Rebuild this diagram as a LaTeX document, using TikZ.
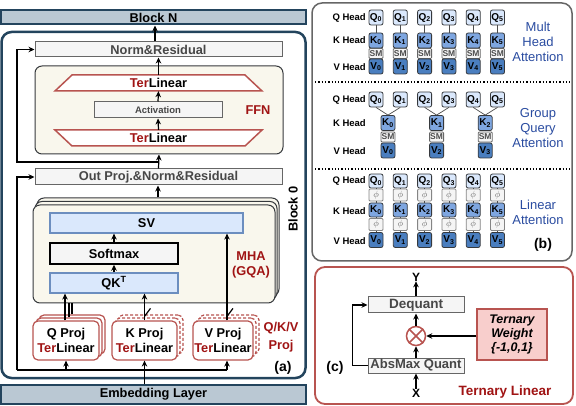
\documentclass[tikz,border=0pt]{standalone}
\usepackage{fontspec}
\setmainfont{Liberation Sans}
\usetikzlibrary{arrows.meta}
\definecolor{blockfill}{HTML}{BAC8D3}
\definecolor{blockline}{HTML}{23445D}
\definecolor{normfill}{HTML}{F5F5F5}
\definecolor{normline}{HTML}{666666}
\definecolor{beige}{HTML}{F9F7ED}
\definecolor{beigeline}{HTML}{36393D}
\definecolor{svfill}{HTML}{DAE8FC}
\definecolor{svline}{HTML}{6C8EBF}
\definecolor{terline}{HTML}{B85450}
\definecolor{terred}{HTML}{A01414}
\definecolor{pinkfill}{HTML}{F8CECC}
\definecolor{labelblue}{HTML}{2A4CA0}
\definecolor{qfill}{HTML}{DAE8FC}
\definecolor{kfill}{HTML}{7EA6E0}
\definecolor{vfill}{HTML}{4A7EBF}
\definecolor{headline}{HTML}{36393D}
\newcommand{\pxfont}[2]{\fontsize{#1}{#2}\selectfont}

\begin{document}
\begin{tikzpicture}[x=1pt, y=-1pt,
  every node/.style={inner sep=0pt, font=\pxfont{12.8}{15}\bfseries},
  bar/.style={draw=blockline, fill=blockfill, line width=2pt},
  normbox/.style={draw=normline, fill=normfill, line width=1pt, text=black!72},
  container/.style={draw=beigeline, fill=beige, line width=1pt, rounded corners=7pt},
  bluebox/.style={draw=svline, fill=svfill, line width=1.2pt},
  projbox/.style={draw=terline, fill=white, line width=1.2pt, rounded corners=5pt, align=center},
  dashproj/.style={projbox, dash pattern=on 3pt off 2pt},
  head/.style={draw=headline, line width=0.8pt, rounded corners=2pt, minimum width=14pt, minimum height=15pt, font=\pxfont{10}{12}\bfseries},
  qhead/.style={head, fill=qfill},
  khead/.style={head, fill=kfill},
  vhead/.style={head, fill=vfill},
  smbox/.style={head, fill=normfill, draw=normline, rounded corners=1pt, minimum height=10pt, text=black!70, font=\pxfont{8.5}{9}\bfseries},
  phibox/.style={head, fill=normfill, draw=normline!80, rounded corners=1pt, minimum height=12pt, text=black!60, font=\pxfont{9}{10}},
  headlbl/.style={anchor=east, font=\pxfont{9.5}{11}\bfseries},
  bluelbl/.style={text=labelblue, align=center, font=\pxfont{13}{15}},
  link/.style={line width=1.2pt},
  thin/.style={draw=black!70, line width=0.7pt},
  arr/.style={-{Stealth[length=6pt, width=5.5pt]}, line width=1.2pt}]
  \useasboundingbox (0,0) rectangle (576,406);

  % (a) block stack
  \node[bar, minimum width=305, minimum height=14] (blockN) at (153.5,17.5) {Block N};
  \node[bar, minimum width=305, minimum height=19] (emb) at (153.5,394.5) {Embedding Layer};
  \draw[draw=blockline, line width=2.5pt, rounded corners=10pt] (1.5,32) rectangle (305.5,378);
  \node[rotate=90] (blk0) at (293,209) {Block 0};

  \node[normbox, minimum width=247, minimum height=15] (normres) at (158.5,49.5) {Norm\&Residual};
  \node[container, minimum width=248, minimum height=88] (ffn) at (159,110) {};
  \fill[white] (55,91) -- (72,75) -- (245,75) -- (262,91) -- cycle;
  \draw[terline, line width=1.5pt] (55,91) -- (72,75) -- (245,75) -- (262,91) -- cycle;
  \fill[white] (55,130) -- (72,146) -- (245,146) -- (262,130) -- cycle;
  \draw[terline, line width=1.5pt] (55,130) -- (72,146) -- (245,146) -- (262,130) -- cycle;
  \node[minimum width=173, minimum height=16] (terTop) at (158.5,83) {\textcolor{terred}{Ter}Linear};
  \node[minimum width=173, minimum height=16] (terBot) at (158.5,138) {\textcolor{terred}{Ter}Linear};
  \node[normbox, minimum width=128, minimum height=16, font=\pxfont{9.5}{11}\bfseries] (act) at (158,110) {Activation};
  \node[text=terred] (ffnlbl) at (258,110) {FFN};

  \node[normbox, minimum width=247, minimum height=16] (outproj) at (158.5,177) {Out Proj.\&Norm\&Residual};

  % attention block, two copies behind
  \node[container, minimum width=242, minimum height=98] (mhaback) at (158,247) {};
  \node[container, minimum width=242, minimum height=98] (mhamid) at (156,250.5) {};
  \node[container, minimum width=242, minimum height=98] (mha) at (154,254) {};
  \node[bluebox, minimum width=193, minimum height=20] (sv) at (146.5,223) {SV};
  \node[normbox, draw=black, line width=1.5pt, text=black, minimum width=128, minimum height=21] (softmax) at (114,253.5) {Softmax};
  \node[bluebox, minimum width=128, minimum height=20] (qk) at (114,283) {QK\textsuperscript{T}};
  \node[text=terred, align=center] (mhalbl) at (251,264.5) {MHA\\(GQA)};

  % projections
  \foreach \d in {6,3}
    \node[projbox, minimum width=66, minimum height=39] (qproj\d) at (66+\d,340.5-\d) {};
  \node[projbox, minimum width=66, minimum height=39] (qproj) at (66,340.5) {Q Proj\\\textcolor{terred}{Ter}Linear};
  \foreach \d in {6,3}
    \node[dashproj, minimum width=65, minimum height=39] (kproj\d) at (144.5+\d,340.5-\d) {};
  \node[projbox, minimum width=65, minimum height=39] (kproj) at (144.5,340.5) {K Proj\\\textcolor{terred}{Ter}Linear};
  \foreach \d in {6,3}
    \node[dashproj, minimum width=60, minimum height=39] (vproj\d) at (223+\d,340.5-\d) {};
  \node[projbox, minimum width=60, minimum height=39] (vproj) at (223,340.5) {V Proj\\\textcolor{terred}{Ter}Linear};
  \node[text=terred, align=center, font=\pxfont{12.8}{18}\bfseries] (projlbl) at (281,337) {Q/K/V\\Proj};
  \node[font=\pxfont{14}{16}\bfseries] (lbla) at (283,368) {(a)};

  % data flow
  \draw[arr] ([xshift=-3.5pt]normres.north) -- ([xshift=-3.5pt]normres.north |- blockN.south);
  \draw[arr] (terTop.north) -- (normres.south);
  \draw[arr] (act.north) -- (terTop.south);
  \draw[arr] (terBot.north) -- (act.south);
  \draw[arr] (outproj.north) -- (ffn.south);
  \coordinate (res1) at (158.5,162);
  \coordinate (res1l) at (17,162);
  \draw[arr] (res1) -- (res1l) |- (normres.west);
  \draw[arr] (mhaback.north) -- (mhaback.north |- outproj.south);
  \draw[arr] (qk.north) -- (softmax.south);
  \draw[arr] (softmax.north) -- (softmax.north |- sv.south);
  \draw[arr] ([xshift=-1pt]qproj.north) -- ([xshift=-1pt]qproj.north |- qk.south);
  \draw[link] (qproj3.north) -- (qproj3.north |- mha.south);
  \draw[link] (qproj6.north) -- (qproj6.north |- mha.south);
  \draw[arr] (kproj.north) -- (kproj.north |- qk.south);
  \draw[link] ([yshift=4pt]kproj.north) -- ++(6,-8);
  \coordinate (res2l) at (17,370);
  \coordinate (res2r) at (227,370);
  \draw[arr] (res2r |- vproj.north) -- (res2r |- sv.south);
  \draw[link] ([yshift=4pt]res2r |- vproj.north) -- ++(6,-8);
  \draw[link] (res2r) -- (res2l);
  \draw[arr] (res2l) |- (outproj.west);
  \draw[arr] (kproj.south |- emb.north) -- (kproj.south);
  \draw[arr] (qproj.south |- res2l) -- (qproj.south);
  \draw[arr] (res2r) -- (res2r |- vproj.south);

  % (b) attention variants
  \draw[draw=black!60, line width=1.5pt, rounded corners=10pt] (312,3) rectangle (572,261);
  \draw[dotted, line width=1.3pt] (315,82) -- (570,82);
  \draw[dotted, line width=1.3pt] (315,169) -- (570,169);
  \foreach \i in {0,...,5} {
    \node[qhead] (mq\i) at ({376+24.3*\i},17.5) {Q\textsubscript{\i}};
    \node[khead] (mk\i) at ({376+24.3*\i},40.5) {K\textsubscript{\i}};
    \node[smbox] (ms\i) at ({376+24.3*\i},53.5) {SM};
    \node[vhead] (mv\i) at ({376+24.3*\i},66.5) {V\textsubscript{\i}};
    \draw[thin] (mq\i.south) -- (mk\i.north);
  }
  \node[headlbl] (mqh) at (366,17.5) {Q Head};
  \node[headlbl] (mkh) at (366,40.5) {K Head};
  \node[headlbl] (mvh) at (366,67.5) {V Head};
  \node[bluelbl] (mlbl) at (538,42) {Mult\\Head\\Attention};

  \foreach \i in {0,...,5}
    \node[qhead] (gq\i) at ({376+24.3*\i},99.5) {Q\textsubscript{\i}};
  \foreach \j/\v/\a/\b in {0/0/0/1, 1/2/2/3, 2/3/4/5} {
    \node[khead] (gk\j) at ({388+48.6*\j},123) {K\textsubscript{\j}};
    \node[smbox] (gs\j) at ({388+48.6*\j},137) {SM};
    \node[vhead] (gv\j) at ({388+48.6*\j},150.5) {V\textsubscript{\v}};
    \draw[thin] (gq\a.south) -- (gk\j.north);
    \draw[thin] (gq\b.south) -- (gk\j.north);
  }
  \node[headlbl] (gqh) at (366,99.5) {Q Head};
  \node[headlbl] (gkh) at (366,123) {K Head};
  \node[headlbl] (gvh) at (366,151.5) {V Head};
  \node[bluelbl] (glbl) at (538,128) {Group\\Query\\Attention};

  \foreach \i in {0,...,5} {
    \node[qhead, minimum height=14pt] (lq\i) at ({376+24.3*\i},181) {Q\textsubscript{\i}};
    \node[phibox] (lpa\i) at ({376+24.3*\i},195) {$\phi$};
    \node[khead, minimum height=14pt] (lk\i) at ({376+24.3*\i},210) {K\textsubscript{\i}};
    \node[phibox] (lpb\i) at ({376+24.3*\i},224.5) {$\phi$};
    \node[vhead] (lv\i) at ({376+24.3*\i},240) {V\textsubscript{\i}};
    \draw[thin] (lq\i.south) -- (lpa\i.north);
    \draw[thin] (lpa\i.south) -- (lk\i.north);
    \draw[thin] (lk\i.south) -- (lpb\i.north);
    \draw[thin] (lpb\i.south) -- (lv\i.north);
  }
  \node[headlbl] (lqh) at (366,181) {Q Head};
  \node[headlbl] (lkh) at (366,211) {K Head};
  \node[headlbl] (lvh) at (366,241.5) {V Head};
  \node[bluelbl] (llbl) at (538,212) {Linear\\Attention};
  \node[font=\pxfont{14}{16}\bfseries] (lblb) at (543,245) {(b)};

  % (c) ternary linear
  \draw[draw=terline, line width=1.8pt, rounded corners=10pt] (315,267) rectangle (573,404);
  \node[normbox, minimum width=96, minimum height=16, font=\pxfont{13.5}{15}\bfseries] (deq) at (416,305) {Dequant};
  \node[normbox, minimum width=96, minimum height=15, font=\pxfont{13}{15}\bfseries] (absq) at (416,365.5) {AbsMax Quant};
  \node[circle, draw=terline, fill=white, line width=1.5pt, minimum size=19pt] (mul) at (416,336) {};
  \draw[terline, line width=1.5pt] (mul.45) -- (mul.225) (mul.135) -- (mul.315);
  \node[draw=terline, fill=pinkfill, line width=1.5pt, minimum width=70, minimum height=51, align=center,
    font=\pxfont{12.5}{14}\bfseries\itshape] (tw) at (512,334.5) {Ternary\\Weight\\\{-1,0,1\}};
  \node[font=\pxfont{12}{14}\bfseries] (xin) at (416,393) {X};
  \node[font=\pxfont{12}{14}\bfseries] (yout) at (416,277) {Y};
  \draw[arr] (xin.north) -- (absq.south);
  \draw[arr] (absq.north) -- (mul.south);
  \draw[arr] (mul.north) -- (deq.south);
  \draw[arr] (deq.north) -- (yout.south);
  \draw[arr] (mul.east -| tw.west) -- (mul.east);
  \draw[arr] (absq.west) -- ++(-15,0) |- (deq.west);
  \node[font=\pxfont{14}{16}\bfseries] (lblc) at (335,368) {(c)};
  \node[text=terred, font=\pxfont{13.5}{15}\bfseries] (tlbl) at (505,392) {Ternary Linear};
\end{tikzpicture}
\end{document}
